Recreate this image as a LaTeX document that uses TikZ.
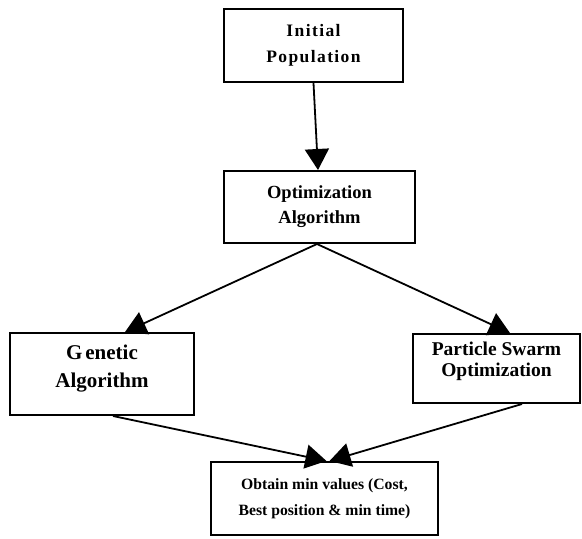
\documentclass[tikz,border=0pt]{standalone}
\usepackage{fontspec}
\setmainfont{Liberation Serif}
\newfontfamily\spacedserif[LetterSpace=8]{Liberation Serif}
\usetikzlibrary{arrows.meta}

\begin{document}
\begin{tikzpicture}[x=1pt,y=1pt,
  box/.style={draw,line width=2pt,fill=white,align=center,inner sep=0pt},
  link/.style={line width=1.8pt,-{Triangle[length=21pt,width=24pt]}}]
  \useasboundingbox (0,0) rectangle (582,-539);
  \node[box,minimum width=179,minimum height=73,
    font=\spacedserif\bfseries\fontsize{17.5}{26}\selectfont] (init) at (313.5,-45.5) {Initial\\Population};
  \node[box,minimum width=191,minimum height=72,
    font=\bfseries\fontsize{18.5}{25}\selectfont] (opt) at (319.5,-207) {Optimization\\Algorithm};
  \node[box,minimum width=184,minimum height=82] (gen) at (102,-374) {};
  \node[align=center,font=\bfseries\fontsize{21}{28}\selectfont] (gentext)
    at ([yshift=5]gen.center) {G\kern3pt enetic\\Algorithm};
  \node[box,minimum width=167,minimum height=69] (pso) at (496.5,-368.5) {};
  \node[align=center,font=\bfseries\fontsize{19.5}{20.5}\selectfont] (psotext)
    at ([yshift=7]pso.center) {Particle Swarm\\Optimization};
  \node[box,minimum width=227,minimum height=73,
    font=\bfseries\fontsize{15.7}{26}\selectfont] (res) at (324.5,-498.5) {Obtain min values (Cost,\\Best position \& min time)};
  \draw[link] (init.south) -- ([xshift=-1.5]opt.north);
  \draw[link] ([xshift=-2.5]opt.south) -- ([xshift=23]gen.north);
  \draw[link] ([xshift=-2.5]opt.south) -- ([xshift=13.5]pso.north);
  \draw[link] ([xshift=11]gen.south) -- ([xshift=2]res.north);
  \draw[link] ([xshift=25.5]pso.south) -- ([xshift=5]res.north);
\end{tikzpicture}
\end{document}
